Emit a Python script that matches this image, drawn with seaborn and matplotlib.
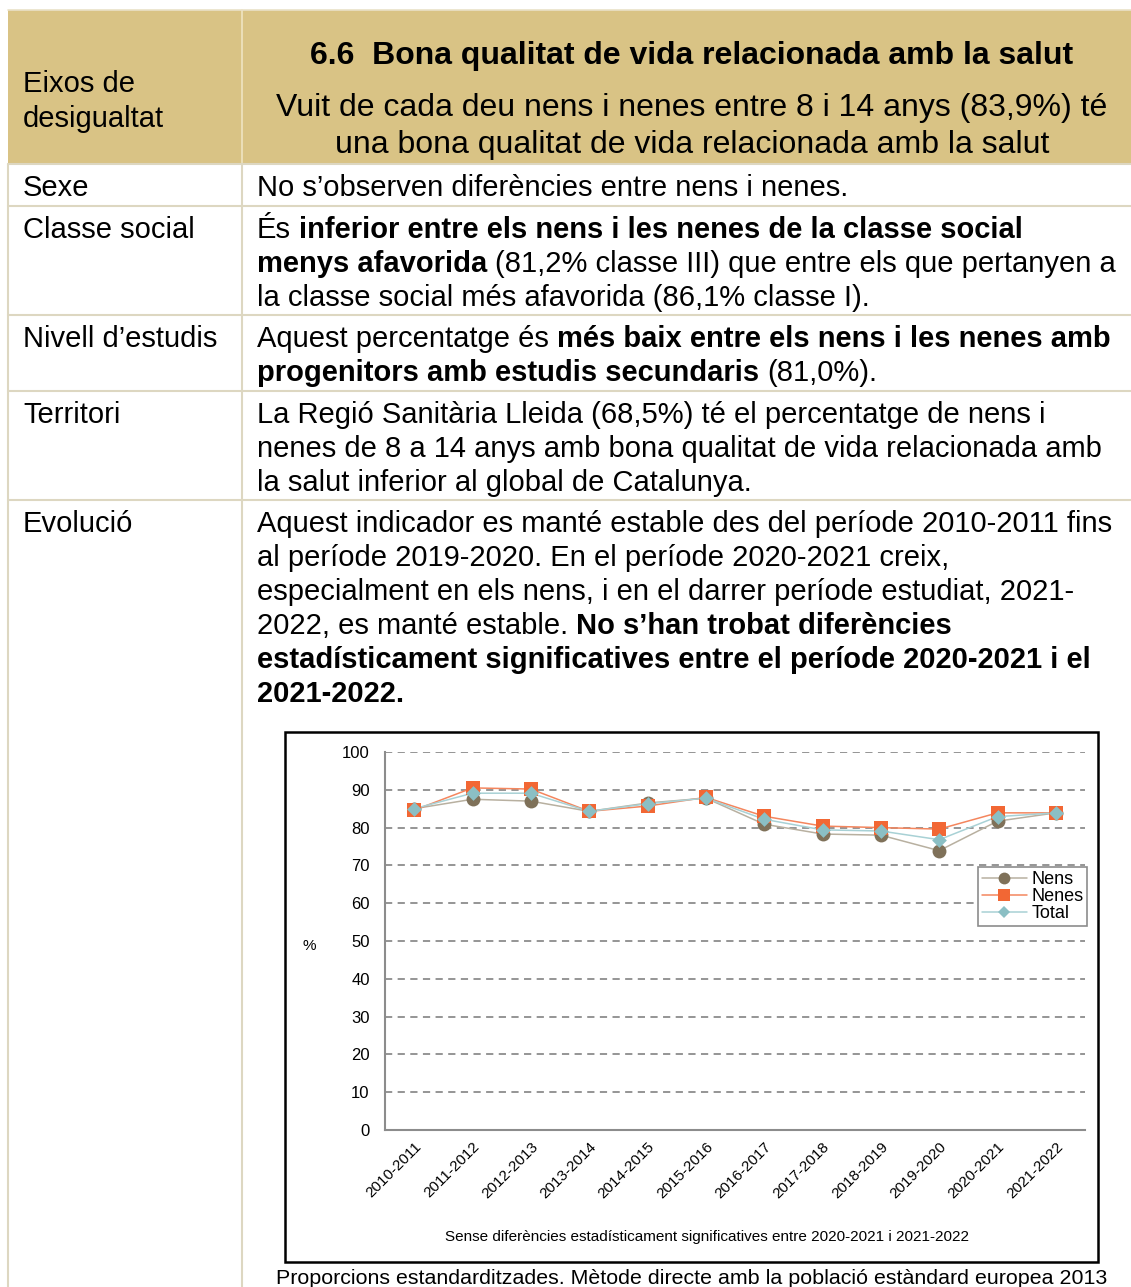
import matplotlib
matplotlib.use('Agg')
import matplotlib.pyplot as plt
import matplotlib.transforms as mtransforms
from matplotlib.patches import Rectangle
from matplotlib.lines import Line2D
import seaborn as sns
import pandas as pd

sns.set_theme(style='white')
plt.rcParams['font.family'] = ['Liberation Sans', 'DejaVu Sans']
plt.rcParams['text.color'] = 'black'

# chart data
periods = ['2010-2011', '2011-2012', '2012-2013', '2013-2014', '2014-2015', '2015-2016',
           '2016-2017', '2017-2018', '2018-2019', '2019-2020', '2020-2021', '2021-2022']
nens = [85.0, 87.5, 87.0, 84.3, 86.5, 87.8, 80.9, 78.3, 78.0, 73.9, 81.7, 83.9]
nenes = [84.6, 90.5, 90.2, 84.3, 85.7, 88.0, 83.0, 80.4, 80.0, 79.6, 83.9, 83.9]
total = [85.0, 89.1, 89.1, 84.3, 86.3, 87.8, 82.2, 79.4, 79.1, 76.8, 82.9, 83.9]
series = ['Nens', 'Nenes', 'Total']
y_ticks = [0, 10, 20, 30, 40, 50, 60, 70, 80, 90, 100]

line_colors = {'Nens': '#b8b0a0', 'Nenes': '#f4865e', 'Total': '#a8d1d5'}
marker_colors = {'Nens': '#7f7159', 'Nenes': '#f26734', 'Total': '#8bbfc4'}
markers = {'Nens': 'o', 'Nenes': 's', 'Total': 'D'}
marker_sizes = {'Nens': 10, 'Nenes': 10.5, 'Total': 7.5}

df = pd.DataFrame({
    'periode': periods * 3,
    'valor': nens + nenes + total,
    'serie': [s for s in series for _ in periods],
})

# table text
header_left = ['Eixos de', 'desigualtat']
title = '6.6  Bona qualitat de vida relacionada amb la salut'
subtitle = ['Vuit de cada deu nens i nenes entre 8 i 14 anys (83,9%) té',
            'una bona qualitat de vida relacionada amb la salut']
rows = [
    ('Sexe', [[("No s’observen diferències entre nens i nenes.", False)]]),
    ('Classe social', [
        [('És ', False), ('inferior entre els nens i les nenes de la classe social', True)],
        [('menys afavorida', True), (' (81,2% classe III) que entre els que pertanyen a', False)],
        [('la classe social més afavorida (86,1% classe I).', False)],
    ]),
    ('Nivell d’estudis', [
        [('Aquest percentatge és ', False), ('més baix entre els nens i les nenes amb', True)],
        [('progenitors amb estudis secundaris', True), (' (81,0%).', False)],
    ]),
    ('Territori', [
        [('La Regió Sanitària Lleida (68,5%) té el percentatge de nens i', False)],
        [('nenes de 8 a 14 anys amb bona qualitat de vida relacionada amb', False)],
        [('la salut inferior al global de Catalunya.', False)],
    ]),
    ('Evolució', [
        [('Aquest indicador es manté estable des del període 2010-2011 fins', False)],
        [('al període 2019-2020. En el període 2020-2021 creix,', False)],
        [('especialment en els nens, i en el darrer període estudiat, 2021-', False)],
        [('2022, es manté estable. ', False), ('No s’han trobat diferències', True)],
        [('estadísticament significatives entre el període 2020-2021 i el', True)],
        [('2021-2022.', True)],
    ]),
]
row_baselines = [196, 238, 347, 423, 532]
row_lines = [164, 206, 315, 391, 500]
chart_note = 'Sense diferències estadísticament significatives entre 2020-2021 i 2021-2022'
caption = 'Proporcions estandarditzades. Mètode directe amb la població estàndard europea 2013'

W, H = 1131, 1287
fig = plt.figure(figsize=(W / 100, H / 100), dpi=100)
fig.patch.set_facecolor('white')
renderer = fig.canvas.get_renderer()


def fx(x):
    return x / W


def fy(y):
    return 1 - y / H


def ptext(x, y, s, **kw):
    return fig.text(fx(x), fy(y), s, **kw)


def draw_runs(x, y, runs, size=21):
    probe = fig.text(0, 0, 'a a', fontsize=size)
    w1 = probe.get_window_extent(renderer).width
    probe.set_text('aa')
    space_w = w1 - probe.get_window_extent(renderer).width
    probe.remove()
    cx = x
    for s, bold in runs:
        lead = len(s) - len(s.lstrip(' '))
        trail = len(s) - len(s.rstrip(' '))
        cx += lead * space_w
        t = ptext(cx, y, s.strip(' '), fontsize=size, va='baseline', ha='left',
                  fontweight='bold' if bold else 'normal')
        cx += t.get_window_extent(renderer).width + trail * space_w


# table background and grid
line_c = '#ddd7c1'
fig.patches.append(Rectangle((fx(8), fy(163)), fx(1131) - fx(8), 153 / H,
                             transform=fig.transFigure, facecolor='#d9c385',
                             edgecolor='none', zorder=-2))
fig.add_artist(Line2D([fx(242), fx(242)], [fy(10), fy(163)], color='#efe4c2', lw=1.2))
fig.add_artist(Line2D([fx(8), fx(1131)], [fy(10), fy(10)], color='#e9e1c8', lw=1.2))
for yl in row_lines:
    fig.add_artist(Line2D([fx(8), fx(1131)], [fy(yl), fy(yl)], color=line_c, lw=1.5))
fig.add_artist(Line2D([fx(8), fx(8)], [fy(164), fy(1287)], color=line_c, lw=1.5))
fig.add_artist(Line2D([fx(242), fx(242)], [fy(164), fy(1287)], color=line_c, lw=1.5))

# header
ptext(23, 92, header_left[0], fontsize=21, va='baseline')
ptext(23, 127, header_left[1], fontsize=21, va='baseline')
ptext(692, 64, title, fontsize=23, fontweight='bold', ha='center', va='baseline')
ptext(692, 116, subtitle[0], fontsize=23, ha='center', va='baseline')
ptext(692, 153, subtitle[1], fontsize=23, ha='center', va='baseline')

# body rows
for (label, lines), base in zip(rows, row_baselines):
    ptext(23, base, label, fontsize=21, va='baseline')
    for i, runs in enumerate(lines):
        draw_runs(257, base + 34 * i, runs)

# chart frame
fig.patches.append(Rectangle((fx(285), fy(1262)), fx(1098) - fx(285), 530 / H,
                             transform=fig.transFigure, facecolor='white',
                             edgecolor='black', lw=1.8, zorder=-1))

ax = fig.add_axes([fx(385), fy(1130), 700 / W, 378 / H])
ax.set_facecolor('none')
sns.lineplot(data=df, x='periode', y='valor', hue='serie', hue_order=series,
             palette=line_colors, lw=1.1, legend=False, ax=ax, sort=False)
for s in series:
    sub = df[df['serie'] == s]
    sns.scatterplot(data=sub, x='periode', y='valor', color=marker_colors[s],
                    marker=markers[s], s=marker_sizes[s] ** 2, linewidth=0,
                    legend=False, ax=ax, zorder=3)

ax.set_xlim(-0.5, len(periods) - 0.5)
ax.set_ylim(0, 100)
ax.set_yticks(y_ticks)
ax.set_yticklabels([str(v) for v in y_ticks], fontsize=12, color='black')
ax.set_xticks(range(len(periods)))
ax.set_xticklabels(periods, rotation=45, ha='right', rotation_mode='anchor',
                   fontsize=11, color='black')
shift = mtransforms.ScaledTranslation(-5 / 100, 0, fig.dpi_scale_trans)
for lab in ax.get_xticklabels():
    lab.set_transform(lab.get_transform() + shift)
ax.set_xticks([i - 0.5 for i in range(len(periods) + 1)], minor=True)
ax.tick_params(axis='x', which='major', length=0, pad=7)
ax.tick_params(axis='x', which='minor', length=5, width=1.2, color='#8c8c8c', direction='out')
ax.tick_params(axis='y', length=5, width=1.2, color='#8c8c8c', direction='out', pad=6)
ax.set_xlabel('')
ax.set_ylabel('')
for yv in y_ticks[1:]:
    ax.axhline(yv, color='#8c8c8c', lw=1.3, ls=(0, (4, 3)), zorder=1)
for side in ['top', 'right']:
    ax.spines[side].set_visible(False)
for side in ['left', 'bottom']:
    ax.spines[side].set_color('#8c8c8c')
    ax.spines[side].set_linewidth(1.5)

handles = [Line2D([], [], color=line_colors[s], lw=1.1, marker=markers[s],
                  markerfacecolor=marker_colors[s], markeredgewidth=0,
                  markersize=marker_sizes[s] * 0.85) for s in series]
leg = ax.legend(handles, series, loc='upper right', bbox_to_anchor=(1.003, 0.695),
                fontsize=13, frameon=True, fancybox=False, edgecolor='#8c8c8c',
                framealpha=1, handlelength=2.5, handletextpad=0.25, labelspacing=0.0,
                borderpad=0.2, borderaxespad=0)
leg.get_frame().set_linewidth(1.2)

ptext(309, 946, '%', fontsize=11, ha='center', va='center')
ptext(707, 1237, chart_note, fontsize=11, ha='center', va='center')
ptext(692, 1279, caption, fontsize=15.4, ha='center', va='center')

fig.savefig('out.png', dpi=100)
